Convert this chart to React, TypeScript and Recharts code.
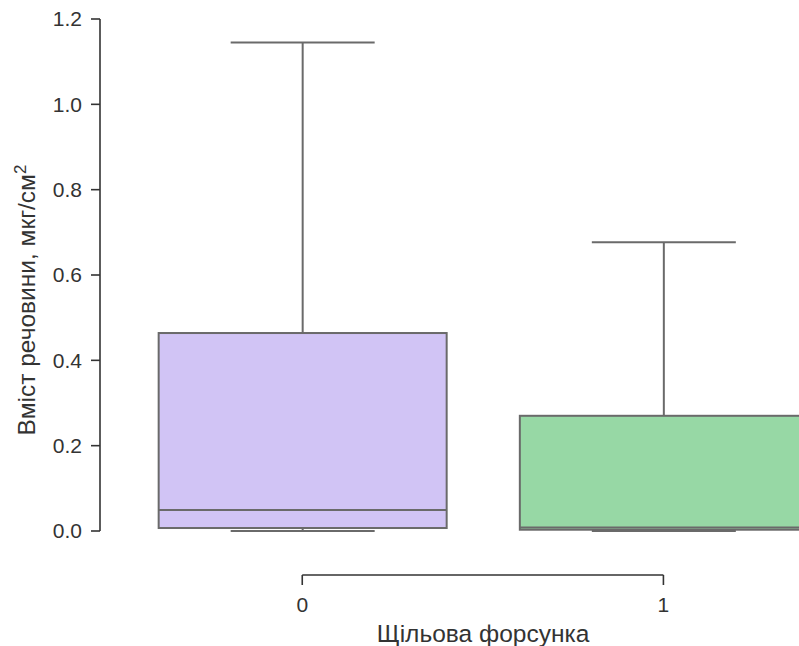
import React from "react";
import { BarChart, Bar, XAxis, YAxis, ReferenceLine, Label } from "recharts";

// box statistics, one entry per nozzle group
const categories = [0, 1];
const whiskerLow = [0, 0];
const q1 = [0.007, 0.003];
const median = [0.049, 0.008];
const q3 = [0.464, 0.27];
const whiskerHigh = [1.145, 0.677];
const yTicks = [0, 0.2, 0.4, 0.6, 0.8, 1.0, 1.2];

const fills = ["#d1c4f5", "#97d8a5"];
const lineColor = "#6a6a6a";
const axisColor = "#333";
const font = "'Liberation Sans', Arial, sans-serif";

const data = categories.map((c, i) => ({
  x: c,
  range: [whiskerLow[i], whiskerHigh[i]],
  q1: q1[i],
  median: median[i],
  q3: q3[i],
  lo: whiskerLow[i],
  hi: whiskerHigh[i],
  fill: fills[i],
}));

function BoxShape(props: any) {
  const { x, y, width, height, payload } = props;
  const { lo, hi } = payload;
  // linear map from value to pixel, using the bar's own scaled extent
  const toPx = (v: number) => y + ((hi - v) / (hi - lo)) * height;
  const cx = x + width / 2;
  const capHalf = width / 4;
  const yq1 = toPx(payload.q1);
  const yq3 = toPx(payload.q3);
  const ymed = toPx(payload.median);
  const yhi = toPx(hi);
  const ylo = toPx(lo);
  return (
    <g>
      <line x1={cx} x2={cx} y1={yhi} y2={yq3} stroke={lineColor} strokeWidth={2} />
      <line x1={cx} x2={cx} y1={yq1} y2={ylo} stroke={lineColor} strokeWidth={2} />
      <line x1={cx - capHalf} x2={cx + capHalf} y1={yhi} y2={yhi} stroke={lineColor} strokeWidth={2} />
      <line x1={cx - capHalf} x2={cx + capHalf} y1={ylo} y2={ylo} stroke={lineColor} strokeWidth={2} />
      <rect x={x} y={yq3} width={width} height={yq1 - yq3} fill={payload.fill} stroke={lineColor} strokeWidth={2} />
      <line x1={x} x2={x + width} y1={ymed} y2={ymed} stroke={lineColor} strokeWidth={2} />
    </g>
  );
}

function XTick(props: any) {
  const { x, y, payload } = props;
  return (
    <g>
      <line x1={x} x2={x} y1={y + 44} y2={y + 54} stroke={axisColor} strokeWidth={1.6} />
      <text x={x} y={y + 81} textAnchor="middle" fontSize={21} fill={axisColor} fontFamily={font}>
        {payload.value}
      </text>
    </g>
  );
}

export default function App() {
  return (
    <div style={{ position: "absolute", left: 0, top: 0, width: 799, height: 646, overflow: "hidden", background: "#fff" }}>
      <BarChart
        width={844}
        height={646}
        data={data}
        margin={{ top: 19, right: 0, bottom: 0, left: 0 }}
        style={{ fontFamily: font }}
      >
        <XAxis
          dataKey="x"
          type="number"
          domain={[-0.56, 1.5]}
          allowDataOverflow
          ticks={categories}
          axisLine={false}
          tickLine={false}
          tickSize={0}
          tickMargin={0}
          height={115}
          tick={<XTick />}
        >
          <Label
            content={() => (
              <text x={483} y={642} textAnchor="middle" fontSize={24.5} fill={axisColor} fontFamily={font}>
                Щільова форсунка
              </text>
            )}
          />
        </XAxis>
        <YAxis
          domain={[0, 1.2]}
          ticks={yTicks}
          width={100}
          tickSize={9}
          tickMargin={9}
          tickFormatter={(v: number) => v.toFixed(1)}
          axisLine={{ stroke: axisColor, strokeWidth: 1.6 }}
          tickLine={{ stroke: axisColor, strokeWidth: 1.6 }}
          tick={{ fontSize: 21, fill: axisColor, fontFamily: font }}
        >
          <Label
            content={() => (
              <text
                x={35}
                y={300}
                transform="rotate(-90, 35, 300)"
                textAnchor="middle"
                fontSize={24.5}
                fill={axisColor}
                fontFamily={font}
              >
                Вміст речовини, мкг/см<tspan dy={-9} fontSize={17}>2</tspan>
              </text>
            )}
          />
        </YAxis>
        <ReferenceLine
          segment={[
            { x: 0, y: -0.1031 },
            { x: 1, y: -0.1031 },
          ]}
          ifOverflow="visible"
          stroke={axisColor}
          strokeWidth={1.6}
        />
        <Bar dataKey="range" barSize={288} shape={<BoxShape />} isAnimationActive={false} />
      </BarChart>
    </div>
  );
}
